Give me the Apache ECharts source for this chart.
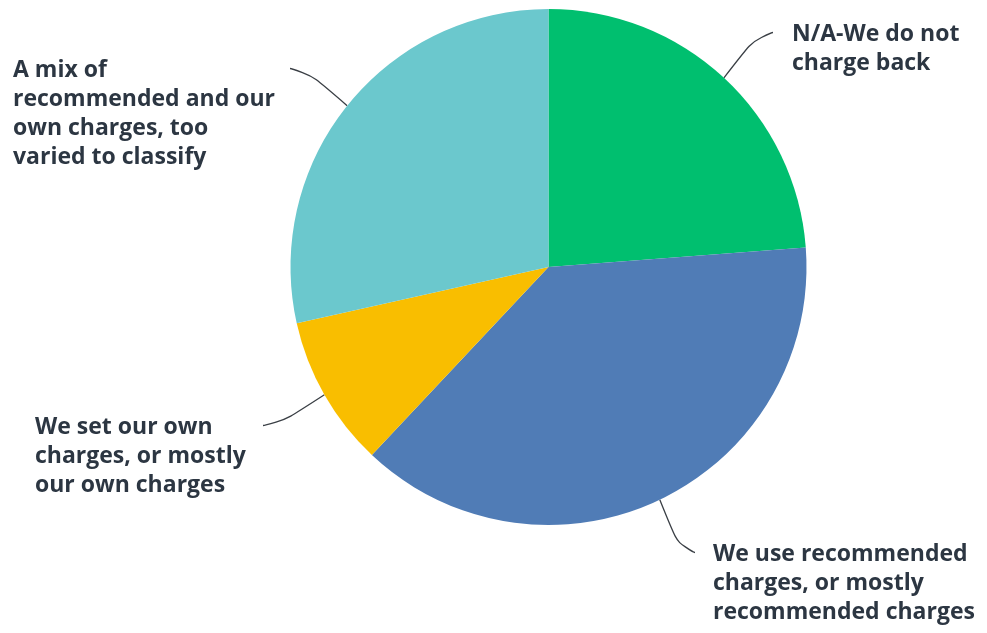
<!DOCTYPE html>
<html>
<head>
<meta charset="utf-8">
<script src="https://cdn.jsdelivr.net/npm/echarts@6/dist/echarts.min.js"></script>
<style>
  html, body { margin: 0; padding: 0; background: #ffffff; }
  #chart { width: 987px; height: 633px; }
</style>
</head>
<body>
<div id="chart"></div>
<script>
// Answer choices (wrapped as they are printed) and their shares, in percent
const answerLabels = [
  'N/A-We do not\ncharge back',
  'We use recommended\ncharges, or mostly\nrecommended charges',
  'We set our own\ncharges, or mostly\nour own charges',
  'A mix of\nrecommended and our\nown charges, too\nvaried to classify'
];
const answerShares = [23.8, 38.2, 9.5, 28.5];
const sliceColors = ['#00bf6f', '#507cb6', '#f9be00', '#6bc8cd'];

// Where each callout sits: the leader line ends at lineEndX, the text starts at textX,
// firstTop is the top of the first text line.
const LINE_H = 29;
const calloutSpots = [
  { side: 'right', lineEndX: 773, textX: 792, firstTop: 20 },
  { side: 'right', lineEndX: 695, textX: 713, firstTop: 540 },
  { side: 'left',  lineEndX: 263, textX: 35,  firstTop: 413 },
  { side: 'left',  lineEndX: 290, textX: 13,  firstTop: 56 }
];

// Extra top padding centres each label box on its first line, so the leader line meets that line.
function topPad(i) {
  const n = answerLabels[i].split('\n').length;
  return LINE_H * (n - 1) + 4;
}

const pieData = answerLabels.map(function (name, i) {
  const s = calloutSpots[i];
  const pad = topPad(i);
  return {
    name: name,
    value: answerShares[i],
    itemStyle: { color: sliceColors[i] },
    label: {
      padding: s.side === 'right' ? [pad, 0, 0, s.textX - s.lineEndX] : [pad, 0, 0, 0]
    }
  };
});

const chart = echarts.init(document.getElementById('chart'), null, { renderer: 'canvas' });
chart.setOption({
  animation: false,
  backgroundColor: '#ffffff',
  series: [{
    type: 'pie',
    center: [548.5, 267],
    radius: [0, 258],
    startAngle: 90,
    clockwise: true,
    avoidLabelOverlap: false,
    data: pieData,
    label: {
      show: true,
      position: 'outside',
      formatter: '{b}',
      color: '#2c3642',
      fontFamily: '"Open Sans", sans-serif',
      fontWeight: 'bold',
      fontSize: 23,
      lineHeight: LINE_H,
      align: 'left',
      overflow: 'none'
    },
    labelLine: {
      show: true,
      length: 15,
      length2: 14,
      smooth: 0.9,
      lineStyle: { color: '#3a3f45', width: 1.3 }
    },
    labelLayout: function (p) {
      const s = calloutSpots[p.dataIndex];
      const pad = topPad(p.dataIndex);
      const out = {
        x: s.side === 'right' ? s.lineEndX : s.textX,
        y: s.firstTop - pad,
        align: 'left',
        verticalAlign: 'top'
      };
      if (s.side === 'left') out.width = s.lineEndX - s.textX;
      return out;
    },
    emphasis: { disabled: true }
  }]
});
</script>
</body>
</html>
